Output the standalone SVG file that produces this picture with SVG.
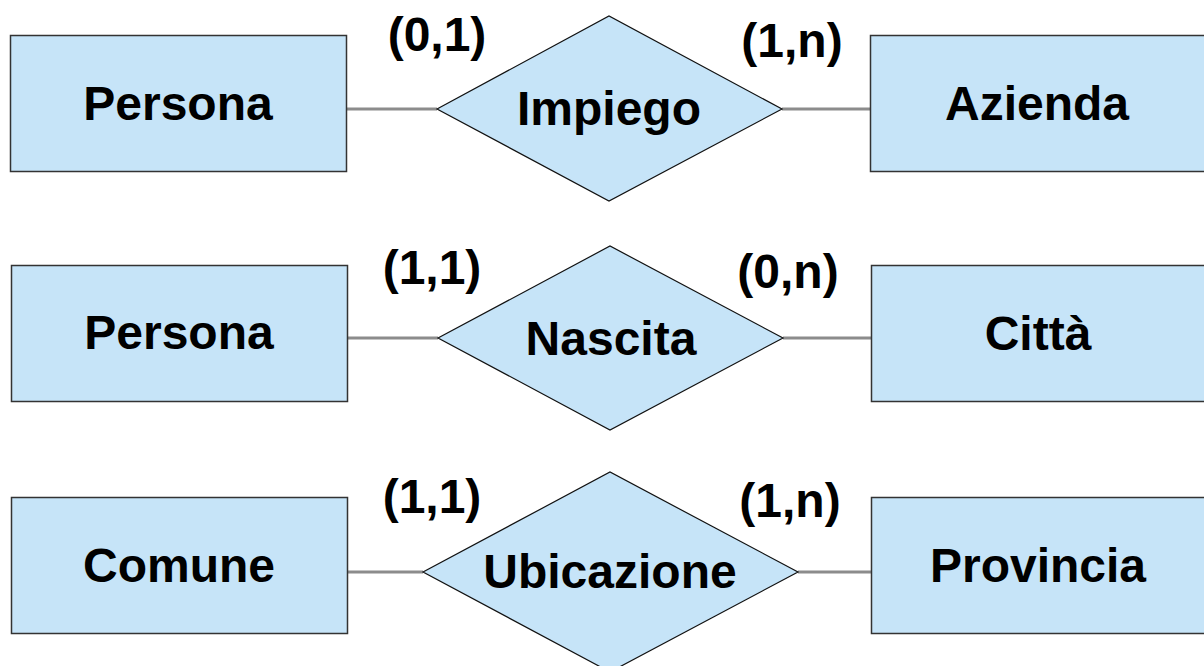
<svg xmlns="http://www.w3.org/2000/svg" width="1204" height="666" viewBox="0 0 1204 666">
<style>
.ent{fill:#c6e4f8;stroke:#333;stroke-width:1.5}
.rel{fill:#c6e4f8;stroke:#111;stroke-width:1.2}
.conn{stroke:#8c8c8c;stroke-width:3;fill:none}
text{font-family:"Liberation Sans",Arial,sans-serif;font-weight:bold;font-size:48px;fill:#000}
.c{text-anchor:middle}
</style>
<rect width="1204" height="666" fill="#fff"/>
<g id="connectors">
<line class="conn" x1="346" y1="109" x2="437" y2="109"/>
<line class="conn" x1="782" y1="109" x2="870" y2="109"/>
<line class="conn" x1="347" y1="338" x2="438" y2="338"/>
<line class="conn" x1="783" y1="338" x2="871" y2="338"/>
<line class="conn" x1="347" y1="572" x2="423" y2="572"/>
<line class="conn" x1="798" y1="572" x2="871" y2="572"/>
</g>
<g id="persona1"><rect class="ent" x="10.5" y="35.5" width="336" height="136"/><text class="c" x="178" y="120">Persona</text></g>
<g id="impiego"><polygon class="rel" points="437,109 609,16 782,109 609,201"/><text class="c" x="609" y="125">Impiego</text></g>
<g id="azienda"><rect class="ent" x="870.5" y="35.5" width="336" height="136"/><text class="c" x="1037" y="120">Azienda</text></g>
<g id="persona2"><rect class="ent" x="11.5" y="265.5" width="336" height="136"/><text class="c" x="179" y="349">Persona</text></g>
<g id="nascita"><polygon class="rel" points="438,338 610,246 783,338 610,430"/><text class="c" x="611" y="355">Nascita</text></g>
<g id="citta"><rect class="ent" x="871.5" y="265.5" width="336" height="136"/><text class="c" x="1038" y="350">Città</text></g>
<g id="comune"><rect class="ent" x="11.5" y="497.5" width="336" height="136"/><text class="c" x="179" y="582">Comune</text></g>
<g id="ubicazione"><polygon class="rel" points="423,572 610,472 798,572 610,672"/><text class="c" x="610" y="588">Ubicazione</text></g>
<g id="provincia"><rect class="ent" x="871.5" y="497.5" width="336" height="136"/><text class="c" x="1038" y="582">Provincia</text></g>
<g id="cardinalities">
<text class="c" x="437" y="51">(0,1)</text>
<text class="c" x="792" y="57">(1,n)</text>
<text class="c" x="432" y="284">(1,1)</text>
<text class="c" x="788" y="288">(0,n)</text>
<text class="c" x="432" y="513">(1,1)</text>
<text class="c" x="790" y="517">(1,n)</text>
</g>
</svg>
